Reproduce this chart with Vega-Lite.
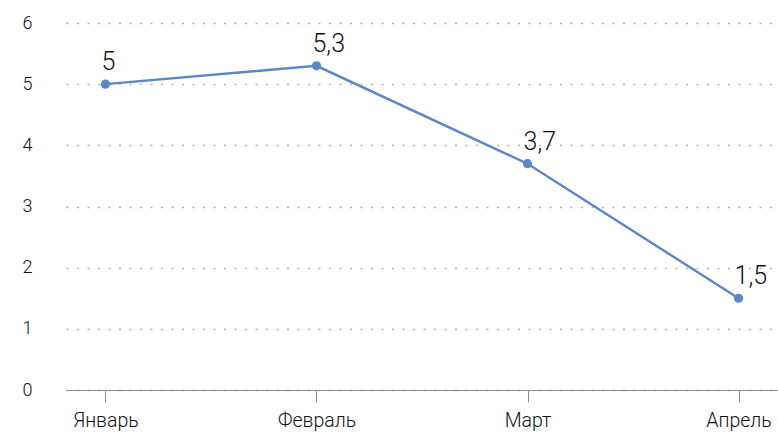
{
  "$schema": "https://vega.github.io/schema/vega-lite/v6.json",
  "width": 712,
  "height": 367,
  "autosize": {"type": "none"},
  "padding": {"left": 66, "top": 23, "right": 0, "bottom": 45},
  "background": "white",
  "config": {
    "view": {"stroke": null},
    "font": "Roboto"
  },
  "data": {
    "values": [
      {"month": "Январь", "value": 5, "label": "5"},
      {"month": "Февраль", "value": 5.3, "label": "5,3"},
      {"month": "Март", "value": 3.7, "label": "3,7"},
      {"month": "Апрель", "value": 1.5, "label": "1,5"}
    ]
  },
  "encoding": {
    "x": {
      "field": "month",
      "type": "ordinal",
      "sort": null,
      "scale": {"type": "point", "padding": 0.187},
      "axis": {
        "title": null,
        "labelAngle": 0,
        "labelFontSize": 19.5,
        "labelFontWeight": 300,
        "labelColor": "#111111",
        "labelPadding": 9,
        "domainColor": "#8c8c8c",
        "domainWidth": 1,
        "tickColor": "#8c8c8c",
        "tickSize": 12,
        "grid": false
      }
    },
    "y": {
      "field": "value",
      "type": "quantitative",
      "scale": {"domain": [0, 6], "nice": false},
      "axis": {
        "title": null,
        "values": [0, 1, 2, 3, 4, 5, 6],
        "labelFontSize": 18,
        "labelFontWeight": 300,
        "labelColor": "#111111",
        "labelPadding": 39,
        "labelAlign": "center",
        "domain": false,
        "ticks": false,
        "grid": true,
        "gridColor": "#b4b4b4",
        "gridDash": [2, 8.5],
        "gridWidth": 1.3
      }
    }
  },
  "layer": [
    {
      "mark": {"type": "line", "color": "#5b87c6", "strokeWidth": 2.4}
    },
    {
      "mark": {"type": "point", "filled": true, "opacity": 1, "color": "#5b87c6", "size": 85}
    },
    {
      "mark": {"type": "text", "align": "left", "baseline": "alphabetic", "dx": -4, "dy": -14, "fontSize": 25, "fontWeight": 300, "color": "#111111"},
      "encoding": {"text": {"field": "label"}}
    }
  ]
}
